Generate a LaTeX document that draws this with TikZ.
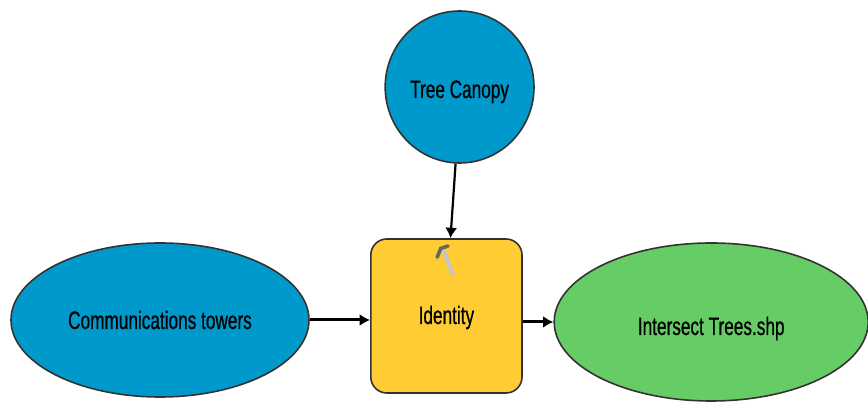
\documentclass[tikz,border=0pt]{standalone}
\usepackage{fontspec}
\setmainfont[FakeStretch=0.68,FakeBold=0.6]{Liberation Sans}
\usetikzlibrary{arrows.meta,shapes.geometric}
\definecolor{inputblue}{HTML}{0099CC}
\definecolor{toolyellow}{HTML}{FFCC33}
\definecolor{outputgreen}{HTML}{66CC66}
\newcommand{\lowertext}[2]{\raisebox{-#1}[0.3cm][0.3cm]{#2}}
\tikzset{
	modelnode/.style={draw=black!80, line width=0.4mm, inner sep=0pt, font=\fontsize{18}{20}\selectfont},
	dataset/.style={modelnode, ellipse},
	tool/.style={modelnode, rectangle, rounded corners=0.4cm},
	link/.style={draw=black, line width=0.75mm, -{Latex[length=2.6mm,width=3mm]}}
}

\begin{document}
\begin{tikzpicture}
	\useasboundingbox (0,0) rectangle (21.7,10.05);

	% Inputs, tool and output
	\node [dataset, fill=inputblue, minimum width=7.45cm, minimum height=3.85cm] (towers) at (4,2.05) {\lowertext{0.225cm}{Communications towers}};
	\node [dataset, fill=inputblue, minimum width=3.72cm, minimum height=3.8cm] (canopy) at (11.49,7.875) {\lowertext{0.275cm}{Tree Canopy}};
	\node [tool, fill=toolyellow, minimum width=3.78cm, minimum height=3.85cm] (identity) at (11.16,2.15) {\lowertext{0.2cm}{Identity}};
	\node [dataset, fill=outputgreen, minimum width=7.85cm, minimum height=3.95cm] (trees) at (17.78,2) {\lowertext{0.325cm}{Intersect Trees.shp}};

	% Connectors
	\draw [link] (towers.east) -- (identity.west |- towers.east);
	\draw [link, line width=0.55mm] (canopy.267) -- (identity.87);
	\draw [link] (identity.east |- trees.west) -- (trees.west);

	% Hammer on the tool
	\draw [color=gray!45, line width=1mm, line cap=round] (11.32,3.2) -- (11.1,3.75);
	\draw [color=black!60, line width=0.9mm, line cap=round] (10.93,3.62) -- (11.02,3.84) -- (11.2,3.9);
\end{tikzpicture}
\end{document}
